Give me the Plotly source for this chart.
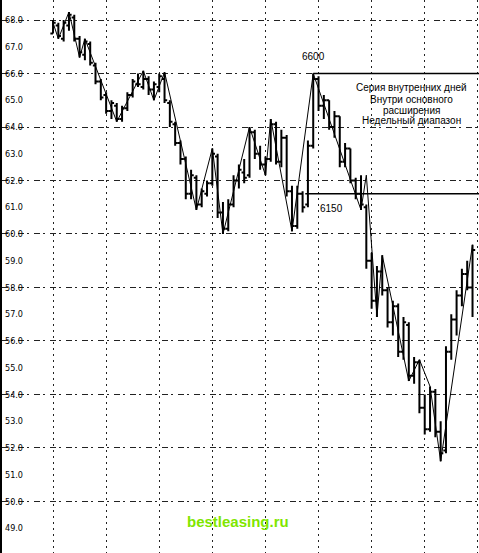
import plotly.graph_objects as go

# daily bars (index of trading day)
days = list(range(10, 90))
opens = [67.5, 67.8, 67.3, 67.8, 68.1, 67.3, 66.7, 67.1, 66.3, 65.7,
         65.2, 64.6, 64.8, 64.3, 64.7, 65.2, 65.6, 65.5, 65.8, 65.4,
         65.5, 65.8, 64.9, 64.1, 63.4, 62.8, 61.5, 62.1, 61.1, 61.5,
         61.9, 62.9, 60.8, 60.2, 61.1, 62.0, 62.3, 62.2, 63.8, 63.0,
         62.6, 62.8, 64.1, 62.7, 63.6, 61.6, 60.3, 61.5, 61.1, 63.3,
         65.8, 64.8, 65.0, 64.0, 64.4, 62.7, 63.2, 62.0, 61.5, 61.0,
         59.0, 57.5, 58.6, 57.9, 56.7, 57.3, 55.6, 56.6, 54.7, 55.2,
         53.5, 52.7, 54.1, 52.6, 51.9, 55.6, 56.8, 57.7, 58.5, 58.0]
highs = [68.0, 67.9, 68.0, 68.3, 68.2, 67.4, 67.3, 67.2, 66.4, 65.8,
         65.3, 65.0, 64.9, 64.8, 65.3, 65.8, 66.0, 66.1, 65.9, 65.7,
         66.0, 66.05, 65.0, 64.2, 63.5, 62.9, 62.4, 62.2, 61.7, 62.0,
         63.2, 63.0, 61.2, 61.3, 62.2, 62.6, 62.8, 64.0, 63.9, 63.3,
         62.9, 64.3, 64.2, 63.9, 63.7, 61.8, 61.8, 61.6, 63.5, 66.0,
         65.9, 65.2, 65.0, 64.6, 64.4, 63.4, 63.2, 62.1, 62.2, 61.1,
         59.3, 58.8, 59.2, 58.0, 57.5, 57.4, 56.9, 56.7, 55.4, 55.3,
         54.0, 54.3, 54.2, 53.0, 55.8, 57.0, 57.9, 58.7, 59.0, 59.6]
lows = [67.5, 67.3, 67.2, 67.6, 67.2, 66.6, 66.5, 66.3, 65.6, 65.0,
        64.5, 64.3, 64.2, 64.2, 64.6, 65.1, 65.5, 65.4, 65.2, 65.0,
        65.3, 64.9, 64.0, 63.3, 62.6, 61.3, 61.3, 60.9, 61.0, 61.4,
        61.8, 60.6, 60.0, 60.1, 61.0, 61.7, 61.9, 62.1, 62.8, 62.4,
        62.2, 62.7, 62.6, 62.5, 61.4, 60.1, 60.2, 60.8, 61.0, 63.2,
        64.6, 64.3, 63.9, 63.6, 62.5, 62.5, 61.9, 61.3, 60.9, 58.7,
        57.2, 56.9, 57.7, 56.5, 56.2, 55.4, 55.3, 54.5, 54.4, 53.3,
        52.5, 52.6, 52.4, 51.5, 51.8, 55.3, 56.2, 57.3, 57.9, 56.9]
closes = [67.9, 67.4, 67.9, 68.2, 67.3, 66.8, 67.2, 66.4, 65.7, 65.1,
          64.6, 64.9, 64.3, 64.7, 65.2, 65.7, 65.6, 65.8, 65.4, 65.6,
          65.9, 65.0, 64.2, 63.4, 62.8, 61.5, 62.2, 61.1, 61.6, 61.9,
          63.0, 60.8, 60.2, 61.1, 62.0, 62.4, 62.1, 63.8, 63.0, 62.6,
          62.8, 64.1, 62.7, 63.6, 61.6, 60.3, 61.5, 61.0, 63.3, 65.8,
          64.8, 65.0, 64.0, 64.4, 62.7, 63.2, 62.0, 61.5, 61.1, 59.0,
          57.5, 58.6, 57.9, 56.7, 57.3, 55.6, 56.7, 54.7, 55.2, 53.5,
          52.7, 54.1, 52.6, 51.8, 55.6, 56.8, 57.7, 58.5, 58.0, 59.4]

# swing line
swing_t = [10, 11, 13, 15, 16, 22, 27, 29, 31, 37, 40, 42, 47, 50, 51, 55,
           59, 68, 69, 71, 72, 77, 79, 81, 83, 89]
swing_v = [67.9, 67.3, 68.3, 66.6, 67.3, 64.2, 66.1, 65.0, 66.05, 60.9, 63.2,
           60.0, 64.0, 62.2, 64.3, 60.1, 66.0, 60.9, 62.2, 56.9, 59.2, 54.5,
           55.3, 54.3, 51.5, 59.6]

# weekly range levels
levels = [66.0, 61.5]
level_start = [59, 57.5]
level_labels = ["6600", "6150"]

note_lines = ["Серия внутренних дней", "Внутри основного", "расширения",
              "Недельный диапазон"]

x_range = [0.39, 90.22]
y_range = [48.07, 68.75]

fig = go.Figure()
fig.add_trace(go.Ohlc(
    x=days, open=opens, high=highs, low=lows, close=closes,
    increasing_line_color="black", decreasing_line_color="black",
    line_width=2, tickwidth=0.5, hoverinfo="skip",
))
fig.add_trace(go.Scatter(
    x=swing_t, y=swing_v, mode="lines",
    line=dict(color="black", width=1), hoverinfo="skip",
))
for lv, st in zip(levels, level_start):
    fig.add_trace(go.Scatter(
        x=[st, x_range[1]], y=[lv, lv], mode="lines",
        line=dict(color="black", width=1.5), hoverinfo="skip",
    ))
# dummy trace so the label axis renders
fig.add_trace(go.Scatter(x=[days[0]], y=[opens[0]], yaxis="y2",
                         mode="none", hoverinfo="skip"))

fig.add_annotation(x=58.96, y=66.62, text=level_labels[0], showarrow=False,
                   font=dict(size=10, color="black"))
fig.add_annotation(x=62.5, y=60.97, text=level_labels[1], showarrow=False,
                   font=dict(size=10, color="black"))
for line, yy in zip(note_lines, [65.46, 65.02, 64.62, 64.24]):
    fig.add_annotation(x=77.6, y=yy, text=line, showarrow=False,
                       font=dict(size=10, color="black"))
fig.add_annotation(x=44.8, y=49.23, text="<b>bestleasing.ru</b>", showarrow=False,
                   font=dict(size=15, color="#7fe600"))

fig.update_layout(
    width=479, height=553,
    margin=dict(l=2, r=0, t=0, b=0),
    paper_bgcolor="white", plot_bgcolor="white",
    showlegend=False,
    font=dict(family="Liberation Sans, Arial, sans-serif"),
    xaxis=dict(range=x_range, dtick=10, tick0=0, showticklabels=False,
               showgrid=True, gridcolor="#222", griddash="2px,4px", gridwidth=1,
               zeroline=False, showline=False, rangeslider=dict(visible=False)),
    yaxis=dict(range=y_range, dtick=2, tick0=0, showticklabels=False,
               showgrid=True, gridcolor="#222", griddash="6px,3px,2px,5px",
               gridwidth=1,
               zeroline=False, showline=True, linecolor="black", linewidth=3),
    yaxis2=dict(range=y_range, dtick=1, tick0=0, overlaying="y", side="left",
                showgrid=False, zeroline=False, ticklabelposition="inside",
                tickformat=".1f", ticks="",
                tickfont=dict(size=9, color="black",
                              family="DejaVu Sans Condensed, Liberation Sans"),
                showline=False),
)

# page body has a default margin; drop it so the figure sits at 0,0
fig.write_html("out.html", config={"displayModeBar": False},
               post_script="document.body.style.margin='0px';")
